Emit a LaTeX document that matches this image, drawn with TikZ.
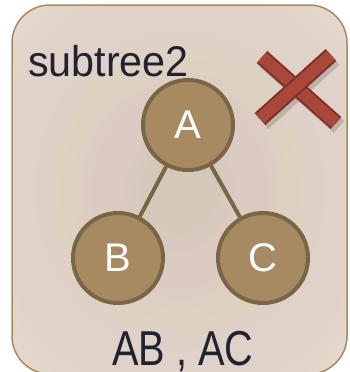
\documentclass[tikz,border=0pt]{standalone}
\usepackage{fontspec}
\setmainfont{Liberation Sans}
\definecolor{cout}{HTML}{E8E0D2}
\definecolor{cbeige}{HTML}{DDD2C1}
\definecolor{cbeige2}{HTML}{E3D9CA}
\definecolor{cring}{HTML}{DCCBC3}
\definecolor{cring2}{HTML}{E0D1C9}
\definecolor{cin}{HTML}{D3C8BA}
\definecolor{boxline}{HTML}{A88A5E}
\definecolor{nodefill}{HTML}{A88A62}
\definecolor{nodeline}{HTML}{786645}
\definecolor{txt}{HTML}{1F2330}
\definecolor{xred}{HTML}{A8483B}
\definecolor{xdark}{HTML}{7E2F26}
\pgfdeclareradialshading{bgshade}{\pgfpoint{0bp}{0bp}}{color(0bp)=(cin); color(5bp)=(cin); color(9bp)=(cring); color(13bp)=(cring); color(17bp)=(cbeige); color(22bp)=(cring2); color(27bp)=(cring2); color(33bp)=(cbeige2); color(43bp)=(cout); color(50bp)=(cout)}
\tikzset{
  treenode/.style={circle, draw=nodeline, line width=4pt, fill=nodefill, minimum size=90pt, inner sep=0pt, text=white, font=\fontsize{40}{40}\selectfont},
  treeedge/.style={draw=nodeline, line width=4pt},
  xbar/.style={line width=12pt, draw=xred},
  xbarline/.style={line width=16pt, draw=xdark},
  xshadow/.style={line width=16pt, draw=black, opacity=0.15},
}
\begin{document}
\begin{tikzpicture}[x=1pt, y=-1pt]
\useasboundingbox (0,0) rectangle (349,372);
\path[fill=white] (0,0) rectangle (349,372);
\path[shading=bgshade, rounded corners=38pt] (12,5) rectangle (347,374);
\draw[boxline, line width=1.5pt, rounded corners=38pt] (12,5) rectangle (347,374);
\node[anchor=base west, inner sep=0pt, text=txt, font=\fontsize{43}{43}\selectfont, xscale=0.96] (title) at (28,76) {subtree2};
% cross
\coordinate (x1a) at (262,57); \coordinate (x1b) at (336,123);
\coordinate (x2a) at (331,55); \coordinate (x2b) at (260,119);
\draw[xshadow] ([shift={(3,4)}]x1a) -- ([shift={(3,4)}]x1b);
\draw[xshadow] ([shift={(3,4)}]x2a) -- ([shift={(3,4)}]x2b);
\draw[xbarline] (x1a) -- (x1b);
\draw[xbar] (x1a) -- (x1b);
\draw[xbarline] (x2a) -- (x2b);
\draw[xbar] (x2a) -- (x2b);
\node[treenode] (A) at (188,125) {A};
\node[treenode] (B) at (118,258) {B};
\node[treenode] (C) at (263,258) {C};
\draw[treeedge] (A) -- (B);
\draw[treeedge] (A) -- (C);
\node[anchor=base, inner sep=0pt, text=txt, font=\fontsize{49}{49}\selectfont, xscale=0.81] (label) at (183,365) {AB , AC};
\end{tikzpicture}
\end{document}
